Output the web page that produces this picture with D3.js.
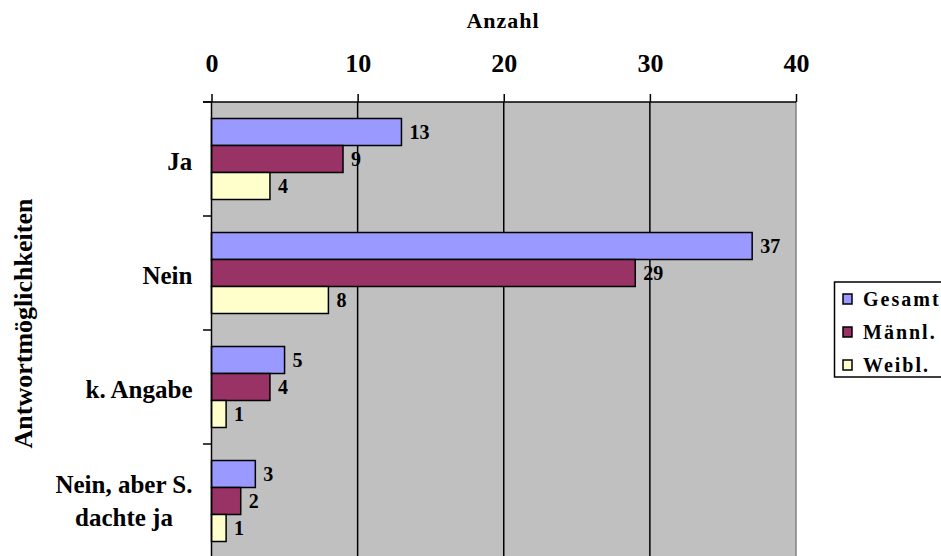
<!DOCTYPE html>
<html><head><meta charset="utf-8">
<script src="https://cdn.jsdelivr.net/npm/d3@7"></script>
<style>
html,body{margin:0;padding:0;background:#fff;overflow:hidden}
svg{display:block}
text{font-family:"Liberation Serif","Times New Roman",serif;font-weight:bold;fill:#000}
</style></head>
<body>
<script>
const categories = [["Ja"], ["Nein"], ["k. Angabe"], ["Nein, aber S.", "dachte ja"]];
const seriesNames = ["Gesamt", "Männl.", "Weibl."];
const seriesColors = ["#9999FF", "#993366", "#FFFFCC"];
const gesamt = [13, 37, 5, 3];
const maennl = [9, 29, 4, 2];
const weibl = [4, 8, 1, 1];
const tickValues = [0, 10, 20, 30, 40];
const xTitle = "Anzahl";
const yTitle = "Antwortmöglichkeiten";

const series = [gesamt, maennl, weibl];
const W = 941, H = 556;
const svg = d3.select("body").append("svg").attr("width", W).attr("height", H);

const pLeft = 211.5, pRight = 796, pTop = 102, bandH = 114;
const x = d3.scaleLinear().domain([0, 40]).range([pLeft, pRight]);
const y0 = d3.scaleBand().domain(d3.range(categories.length)).range([pTop, pTop + bandH * categories.length]).padding(0);
const y1 = d3.scaleBand().domain(d3.range(series.length)).range([16.5, bandH - 16.5]).padding(0);

// plot area
svg.append("rect").attr("x", pLeft).attr("y", pTop).attr("width", pRight - pLeft).attr("height", H - pTop + 10).attr("fill", "#C0C0C0");
// right border
svg.append("line").attr("x1", pRight).attr("x2", pRight).attr("y1", pTop).attr("y2", H + 10).attr("stroke", "#808080").attr("stroke-width", 1.5);
// gridlines
svg.append("g").selectAll("line").data(tickValues.slice(1, -1)).join("line")
  .attr("x1", d => x(d)).attr("x2", d => x(d)).attr("y1", pTop).attr("y2", H + 10)
  .attr("stroke", "#000").attr("stroke-width", 1.5);

// bars
const g = svg.append("g");
categories.forEach((c, ci) => {
  series.forEach((s, si) => {
    const yy = y0(ci) + y1(si);
    g.append("rect").attr("x", x(0)).attr("y", yy).attr("width", x(s[ci]) - x(0)).attr("height", y1.bandwidth())
      .attr("fill", seriesColors[si]).attr("stroke", "#000").attr("stroke-width", 1.5);
  });
});
categories.forEach((c, ci) => {
  series.forEach((s, si) => {
    const yy = y0(ci) + y1(si);
    g.append("text").attr("x", x(s[ci]) + 8).attr("y", yy + y1.bandwidth() / 2 + 6.5)
      .attr("font-size", 20).text(s[ci]);
  });
});

// top axis
const xAxis = d3.axisTop(x).tickValues(tickValues).tickSize(8).tickPadding(22);
const ax = svg.append("g").attr("transform", `translate(0,${pTop})`).call(xAxis);
ax.select(".domain").remove();
ax.selectAll(".tick line").attr("stroke", "#000").attr("stroke-width", 1.5);
ax.selectAll(".tick text").attr("font-size", 26).attr("font-family", '"Liberation Serif",serif').attr("font-weight", "bold").attr("fill", "#000");
svg.append("line").attr("x1", pLeft - 8.5).attr("x2", pRight).attr("y1", pTop).attr("y2", pTop).attr("stroke", "#000").attr("stroke-width", 1.5);

// left axis
svg.append("line").attr("x1", pLeft).attr("x2", pLeft).attr("y1", pTop).attr("y2", H + 10).attr("stroke", "#000").attr("stroke-width", 1.5);
svg.append("g").selectAll("line").data(d3.range(categories.length + 1)).join("line")
  .attr("x1", pLeft - 8.5).attr("x2", pLeft).attr("y1", d => pTop + d * bandH).attr("y2", d => pTop + d * bandH)
  .attr("stroke", "#000").attr("stroke-width", 1.5);

// category labels
categories.forEach((lines, ci) => {
  const cy = y0(ci) + bandH / 2;
  const t = svg.append("text").attr("font-size", 25).attr("text-anchor", "middle");
  lines.forEach((ln, li) => {
    t.append("tspan").attr("x", 0).attr("y", cy + 11 + (li - (lines.length - 1) / 2) * 33 - (lines.length > 1 ? 3 : 0)).text(ln);
  });
  const bb = t.node().getBBox();
  t.attr("transform", `translate(${192.5 - bb.width / 2},0)`);
});

// titles
svg.append("text").attr("x", 503).attr("y", 28.3).attr("text-anchor", "middle").attr("font-size", 22).attr("letter-spacing", 1).text(xTitle);
svg.append("text").attr("transform", "translate(32,323.5) rotate(-90)").attr("text-anchor", "middle").attr("font-size", 26).text(yTitle);

// legend
const lg = svg.append("g");
lg.append("rect").attr("x", 834.5).attr("y", 282).attr("width", 130).attr("height", 95).attr("fill", "#fff").attr("stroke", "#000").attr("stroke-width", 1.5);
seriesNames.forEach((n, i) => {
  const cy = 299 + i * 33;
  lg.append("rect").attr("x", 843).attr("y", cy - 5).attr("width", 9).attr("height", 10).attr("fill", seriesColors[i]).attr("stroke", "#000").attr("stroke-width", 1.5);
  lg.append("text").attr("x", 863).attr("y", cy + 7).attr("font-size", 20).attr("letter-spacing", 2).text(n);
});
</script>
</body></html>
